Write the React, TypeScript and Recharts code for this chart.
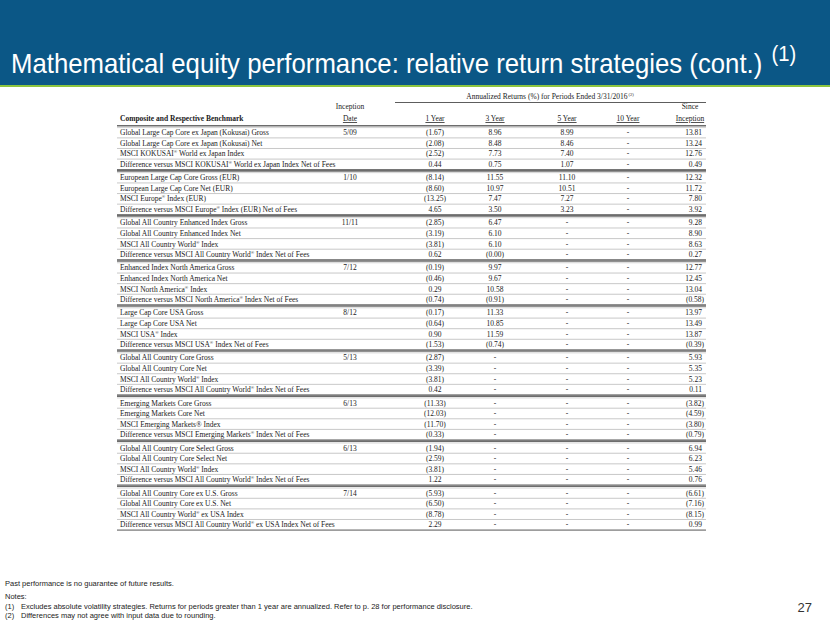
import React from 'react';
import { ScatterChart, Scatter, XAxis, YAxis } from 'recharts';

// one inception date per composite (4 rows each)
const inceptionDates = ['5/09', '1/10', '11/11', '7/12', '8/12', '5/13', '6/13', '6/13', '7/14'];

// "^®" marks a superscript registered sign
const rowNames = [
  'Global Large Cap Core ex Japan (Kokusai) Gross',
  'Global Large Cap Core ex Japan (Kokusai) Net',
  'MSCI KOKUSAI^® World ex Japan Index',
  'Difference versus MSCI KOKUSAI^® World ex Japan Index Net of Fees',
  'European Large Cap Core Gross (EUR)',
  'European Large Cap Core Net (EUR)',
  'MSCI Europe^® Index (EUR)',
  'Difference versus MSCI Europe^® Index (EUR) Net of Fees',
  'Global All Country Enhanced Index Gross',
  'Global All Country Enhanced Index Net',
  'MSCI All Country World^® Index',
  'Difference versus MSCI All Country World^® Index Net of Fees',
  'Enhanced Index North America Gross',
  'Enhanced Index North America Net',
  'MSCI North America^® Index',
  'Difference versus MSCI North America^® Index Net of Fees',
  'Large Cap Core USA Gross',
  'Large Cap Core USA Net',
  'MSCI USA^® Index',
  'Difference versus MSCI USA^® Index Net of Fees',
  'Global All Country Core Gross',
  'Global All Country Core Net',
  'MSCI All Country World^® Index',
  'Difference versus MSCI All Country World^® Index Net of Fees',
  'Emerging Markets Core Gross',
  'Emerging Markets Core Net',
  'MSCI Emerging Markets® Index',
  'Difference versus MSCI Emerging Markets^® Index Net of Fees',
  'Global All Country Core Select Gross',
  'Global All Country Core Select Net',
  'MSCI All Country World^® Index',
  'Difference versus MSCI All Country World^® Index Net of Fees',
  'Global All Country Core ex U.S. Gross',
  'Global All Country Core ex U.S. Net',
  'MSCI All Country World^® ex USA Index',
  'Difference versus MSCI All Country World^® ex USA Index Net of Fees',
];

// null = "-" (no track record for that period)
const oneYear = [
  -1.67, -2.08, -2.52, 0.44,
  -8.14, -8.6, -13.25, 4.65,
  -2.85, -3.19, -3.81, 0.62,
  -0.19, -0.46, 0.29, -0.74,
  -0.17, -0.64, 0.9, -1.53,
  -2.87, -3.39, -3.81, 0.42,
  -11.33, -12.03, -11.7, -0.33,
  -1.94, -2.59, -3.81, 1.22,
  -5.93, -6.5, -8.78, 2.29,
];
const threeYear = [
  8.96, 8.48, 7.73, 0.75,
  11.55, 10.97, 7.47, 3.5,
  6.47, 6.1, 6.1, -0,
  9.97, 9.67, 10.58, -0.91,
  11.33, 10.85, 11.59, -0.74,
  null, null, null, null,
  null, null, null, null,
  null, null, null, null,
  null, null, null, null,
];
const fiveYear = [
  8.99, 8.46, 7.4, 1.07,
  11.1, 10.51, 7.27, 3.23,
  null, null, null, null,
  null, null, null, null,
  null, null, null, null,
  null, null, null, null,
  null, null, null, null,
  null, null, null, null,
  null, null, null, null,
];
const tenYear = [
  null, null, null, null,
  null, null, null, null,
  null, null, null, null,
  null, null, null, null,
  null, null, null, null,
  null, null, null, null,
  null, null, null, null,
  null, null, null, null,
  null, null, null, null,
];
const sinceInception = [
  13.81, 13.24, 12.76, 0.49,
  12.32, 11.72, 7.8, 3.92,
  9.28, 8.9, 8.63, 0.27,
  12.77, 12.45, 13.04, -0.58,
  13.97, 13.49, 13.87, -0.39,
  5.93, 5.35, 5.23, 0.11,
  -3.82, -4.59, -3.8, -0.79,
  6.94, 6.23, 5.46, 0.76,
  -6.61, -7.16, -8.15, 0.99,
];

const W = 830;
const H = 623;
const ROWS_PER_GROUP = 4;
const GROUP_GAP = 0.25; // extra space between composites, in rows
const ROW_H = 10.6;
const FIRST_ROW_Y = 133;
const PAD_TOP = 1;
const PAD_BOTTOM = 1;

const TABLE_LEFT = 117;
const TABLE_RIGHT = 706;
const COL_X = { name: 120, inception: 350, y1: 435, y3: 495, y5: 567, y10: 628, si: 704 };

const SERIF = "'Liberation Serif', 'Times New Roman', serif";
const SANS = "'Liberation Sans', Arial, sans-serif";
const TXT = '#1a1a1a';

const slot = (i: number) => Math.floor(i / ROWS_PER_GROUP) * (ROWS_PER_GROUP + GROUP_GAP) + (i % ROWS_PER_GROUP);
const lastSlot = slot(rowNames.length - 1);
const CHART_H = (lastSlot + PAD_TOP + PAD_BOTTOM) * ROW_H;
const CHART_TOP = FIRST_ROW_Y - PAD_TOP * ROW_H;

const fmt = (v: number | null) => {
  if (v === null) return '-';
  if (v < 0 || Object.is(v, -0)) return `(${Math.abs(v).toFixed(2)})`;
  return v.toFixed(2);
};

const renderName = (name: string) => {
  const parts = name.split('^');
  return parts.map((p, k) => {
    if (k === 0) return <tspan key={k}>{p}</tspan>;
    return (
      <React.Fragment key={k}>
        <tspan dy={-3} fontSize={4.5}>{p.slice(0, 1)}</tspan>
        <tspan dy={3}>{p.slice(1)}</tspan>
      </React.Fragment>
    );
  });
};

const NameCell = (props: any) => {
  const { cx, cy, payload } = props;
  const r = payload.idx % ROWS_PER_GROUP;
  const top = cy - ROW_H / 2;
  const bottom = cy + ROW_H / 2;
  return (
    <g>
      {r === 0 && (
        <>
          <line x1={TABLE_LEFT} x2={TABLE_RIGHT} y1={top - 1.5} y2={top - 1.5} stroke="#6d6d6d" strokeWidth={1.6} />
          <line x1={TABLE_LEFT} x2={TABLE_RIGHT} y1={top + 0.3} y2={top + 0.3} stroke="#b5b5b5" strokeWidth={0.6} />
        </>
      )}
      <line
        x1={TABLE_LEFT}
        x2={TABLE_RIGHT}
        y1={bottom}
        y2={bottom}
        stroke={r === 3 ? '#555' : '#b0b0b0'}
        strokeWidth={r === 3 ? 1 : 0.7}
      />
      <text x={cx} y={cy} dy="0.35em" fontSize={7.5} fontFamily={SERIF} fill={TXT}>
        {renderName(payload.label)}
      </text>
    </g>
  );
};

const cellShape = (anchor: 'middle' | 'end') => (props: any) => {
  const { cx, cy, payload } = props;
  const shift = anchor === 'end' && !payload.label.startsWith('(') ? -2 : 0;
  return (
    <text x={cx + shift} y={cy} dy="0.35em" fontSize={7.5} fontFamily={SERIF} fill={TXT} textAnchor={anchor}>
      {payload.label}
    </text>
  );
};

const colData = (x: number, values: (number | null)[]) =>
  values.map((v, i) => ({ x, y: slot(i), idx: i, label: fmt(v) }));

const nameData = rowNames.map((n, i) => ({ x: COL_X.name, y: slot(i), idx: i, label: n }));
const inceptionData = inceptionDates.map((d, g) => ({
  x: COL_X.inception,
  y: slot(g * ROWS_PER_GROUP),
  idx: g * ROWS_PER_GROUP,
  label: d,
}));

const HeaderText = ({ x, y, children, anchor = 'middle', underline = false, bold = false }: any) => (
  <text
    x={x}
    y={y}
    fontSize={7.5}
    fontFamily={SERIF}
    fill={TXT}
    textAnchor={anchor}
    fontWeight={bold ? 'bold' : 'normal'}
    textDecoration={underline ? 'underline' : 'none'}
  >
    {children}
  </text>
);

const App: React.FC = () => {
  return (
    <div style={{ position: 'relative', width: W, height: H, overflow: 'hidden', background: '#fff' }}>
      <style>{'body{margin:0}'}</style>
      <svg width={W} height={H} style={{ position: 'absolute', left: 0, top: 0 }}>
        <rect x={0} y={0} width={W} height={85} fill="#0b5786" />
        <rect x={0} y={85} width={W} height={2} fill="#8cc43f" />
        <text transform="translate(11,73) scale(0.92,1)" fontSize={28} fontFamily={SANS} fill="#fff">
          Mathematical equity performance: relative return strategies (cont.)
          <tspan dx={10} dy={-12} fontSize={22}>(1)</tspan>
        </text>

        {/* column headers */}
        <HeaderText x={550} y={99}>
          Annualized Returns (%) for Periods Ended 3/31/2016
          <tspan dx={1} dy={-3} fontSize={4.5}>(2)</tspan>
        </HeaderText>
        <line x1={395} x2={TABLE_RIGHT} y1={102.5} y2={102.5} stroke="#333" strokeWidth={0.8} />
        <HeaderText x={COL_X.inception} y={109}>Inception</HeaderText>
        <HeaderText x={COL_X.inception} y={121} underline>Date</HeaderText>
        <HeaderText x={120} y={121} anchor="start" bold>Composite and Respective Benchmark</HeaderText>
        <HeaderText x={COL_X.y1} y={121} underline>1 Year</HeaderText>
        <HeaderText x={COL_X.y3} y={121} underline>3 Year</HeaderText>
        <HeaderText x={COL_X.y5} y={121} underline>5 Year</HeaderText>
        <HeaderText x={COL_X.y10} y={121} underline>10 Year</HeaderText>
        <HeaderText x={COL_X.si - 14} y={109}>Since</HeaderText>
        <HeaderText x={COL_X.si - 14} y={121} underline>Inception</HeaderText>

        {/* footer */}
        <g fontFamily={SANS} fontSize={7.5} fill="#222">
          <text x={5} y={586}>Past performance is no guarantee of future results.</text>
          <text x={5} y={599}>Notes:</text>
          <text x={5} y={609}>(1)</text>
          <text x={21} y={609}>
            Excludes absolute volatility strategies. Returns for periods greater than 1 year are annualized. Refer to p. 28 for performance disclosure.
          </text>
          <text x={5} y={618}>(2)</text>
          <text x={21} y={618}>Differences may not agree with input data due to rounding.</text>
        </g>
        <text x={812} y={612} fontFamily={SANS} fontSize={13} fill="#333" textAnchor="end">27</text>
      </svg>

      <div style={{ position: 'absolute', left: 0, top: CHART_TOP }}>
        <ScatterChart width={W} height={CHART_H} margin={{ top: 0, right: 0, bottom: 0, left: 0 }}>
          <XAxis type="number" dataKey="x" domain={[0, W]} hide />
          <YAxis type="number" dataKey="y" domain={[-PAD_TOP, lastSlot + PAD_BOTTOM]} reversed hide />
          <Scatter data={nameData} shape={NameCell} isAnimationActive={false} />
          <Scatter data={inceptionData} shape={cellShape('middle')} isAnimationActive={false} />
          <Scatter data={colData(COL_X.y1, oneYear)} shape={cellShape('middle')} isAnimationActive={false} />
          <Scatter data={colData(COL_X.y3, threeYear)} shape={cellShape('middle')} isAnimationActive={false} />
          <Scatter data={colData(COL_X.y5, fiveYear)} shape={cellShape('middle')} isAnimationActive={false} />
          <Scatter data={colData(COL_X.y10, tenYear)} shape={cellShape('middle')} isAnimationActive={false} />
          <Scatter data={colData(COL_X.si, sinceInception)} shape={cellShape('end')} isAnimationActive={false} />
        </ScatterChart>
      </div>
    </div>
  );
};

export default App;
